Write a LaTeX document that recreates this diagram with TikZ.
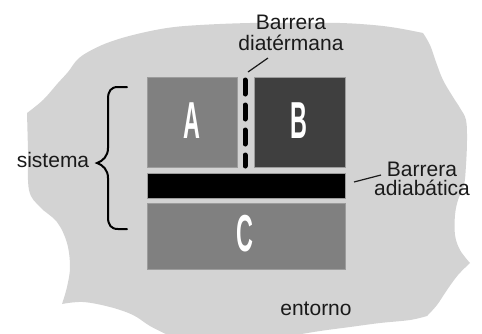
\documentclass[tikz,border=0pt]{standalone}
\usepackage{fontspec}
\setmainfont{Liberation Sans}
\definecolor{bg}{HTML}{D3D3D3}
\definecolor{boxA}{HTML}{808080}
\definecolor{boxB}{HTML}{3F3F3F}
\definecolor{boxC}{HTML}{808080}
\definecolor{edgegray}{HTML}{9C9C9C}
\definecolor{txt}{HTML}{1A1A1A}
\tikzset{
  label21/.style={font=\fontsize{21}{21}\selectfont, text=txt, inner sep=0pt, anchor=base},
  region/.style={draw=edgegray, line width=0.8pt},
  letter/.style={font=\bfseries\fontsize{52}{52}\selectfont, text=white, inner sep=0pt, anchor=base},
  leader/.style={draw=txt, line width=1.2pt},
}
\begin{document}
\begin{tikzpicture}[x=1pt,y=-1pt]
\useasboundingbox (0,0) rectangle (482,333);
% environment blob
\fill[bg] plot[smooth,tension=0.6] coordinates {(27,113) (28,150) (29,190) (40,207) (57,222) (67,243) (70,267) (67,287) (62,304)}
 -- plot[smooth,tension=0.6] coordinates {(62,304) (83,302) (110,307) (133,315) (150,326) (170,336)}
 -- (290,336)
 -- plot[smooth,tension=0.6] coordinates {(290,336) (320,331) (350,327) (380,323) (410,320) (427,316)}
 -- plot[smooth,tension=0.6] coordinates {(427,316) (437,305) (447,290) (458,275) (470,263)}
 -- plot[smooth,tension=0.6] coordinates {(470,263) (460,250) (455,235) (455,215) (458,200) (464,185) (466,165) (467,140) (466,120) (460,108) (453,97) (443,80) (436,62) (430,45) (423,33)}
 -- plot[smooth,tension=0.6] coordinates {(423,33) (397,28) (373,25) (340,23) (300,23) (250,23) (200,25) (167,28) (133,35) (107,43) (88,52) (77,60) (68,72) (58,83) (43,100) (27,113)}
 -- cycle;
% regions
\path[region, fill=boxA] (147,77) rectangle (237,167);
\path[region, fill=boxB] (254,77) rectangle (345,167);
\path[region, fill=black] (147,173) rectangle (345,198);
\path[region, fill=boxC] (147,203) rectangle (345,269);
\node[letter] (A) at (192,138) {\scalebox{0.45}[1]{A}};
\node[letter] (B) at (299,138) {\scalebox{0.45}[1]{B}};
\node[letter] (C) at (245,251) {\scalebox{0.45}[1]{C}};
% diathermal barrier
\coordinate (dtop) at (245,80);
\coordinate (dbot) at (245,166);
\draw[line width=5pt, line cap=round, dash pattern=on 14pt off 11pt] (dtop) -- (dbot);
% labels
\node[label21] (bd1) at (291,29) {Barrera};
\node[label21] (bd2) at (291,50) {diatérmana};
\coordinate (ld1) at (248,72);
\coordinate (ld2) at (268,58);
\draw[leader] (ld1) -- (ld2);
\node[label21] (ba1) at (422,176) {Barrera};
\node[label21] (ba2) at (422,195) {adiabática};
\coordinate (la1) at (354,182);
\coordinate (la2) at (381,175);
\draw[leader] (la1) -- (la2);
\node[label21] (sis) at (53,167) {sistema};
\node[label21] (ent) at (316,315) {entorno};
% brace
\draw[line width=2pt, line cap=round] (127,87) -- (118,87) .. controls (111,87) and (108,91) .. (108,99) -- (108,148)
  .. controls (108,156) and (103,161) .. (97,163)
  .. controls (103,165) and (108,170) .. (108,178) -- (108,217)
  .. controls (108,225) and (111,229) .. (118,229) -- (127,229);
\end{tikzpicture}
\end{document}
